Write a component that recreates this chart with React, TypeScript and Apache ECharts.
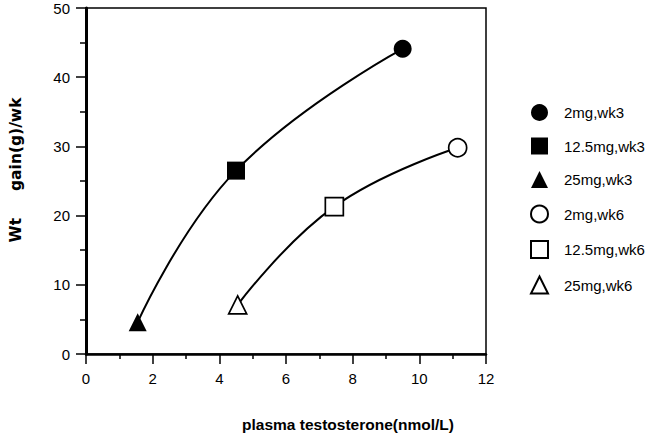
import React, { useEffect, useRef } from "react";
import * as echarts from "echarts";

// Dose groups, one marker per dose and sampling week
const doseLabels = ["2mg", "12.5mg", "25mg"];
const doseSymbols = ["circle", "rect", "triangle"];
const doseSymbolSizes = [18, 18, 18];

// Week 3: plasma testosterone (nmol/L) and weight gain (g/wk)
const testosteroneWk3 = [9.5, 4.5, 1.55];
const gainWk3 = [44.1, 26.5, 4.6];

// Week 6
const testosteroneWk6 = [11.15, 7.45, 4.55];
const gainWk6 = [29.8, 21.3, 7.1];

const xAxisTitle = "plasma testosterone(nmol/L)";
// non-breaking spaces keep the wide gap in SVG text
const yAxisTitle = "Wt\u00A0\u00A0\u00A0\u00A0\u00A0gain(g)/wk";

const FONT = "'Liberation Sans', Arial, Helvetica, sans-serif";
const WIDE_FONT = "'DejaVu Sans', Verdana, sans-serif";

function pairs(xs: number[], ys: number[]) {
  return xs.map((x, i) => [x, ys[i]]).sort((a, b) => a[0] - b[0]);
}

export default function App() {
  const ref = useRef<HTMLDivElement>(null);

  useEffect(() => {
    if (!ref.current) return;
    const chart = echarts.init(ref.current, null, { renderer: "svg" });

    const weeks = [
      { tag: "wk3", xs: testosteroneWk3, ys: gainWk3, filled: true },
      { tag: "wk6", xs: testosteroneWk6, ys: gainWk6, filled: false },
    ];

    const curveSeries = weeks.map((w) => ({
      type: "line",
      name: "curve " + w.tag,
      data: pairs(w.xs, w.ys),
      smooth: 0.45,
      showSymbol: false,
      symbol: "none",
      lineStyle: { color: "#000", width: 2 },
      z: 2,
      silent: true,
    }));

    const markerSeries: any[] = [];
    const legendNames: string[] = [];
    weeks.forEach((w) => {
      doseLabels.forEach((dose, i) => {
        const name = `${dose},${w.tag}`;
        legendNames.push(name);
        markerSeries.push({
          type: "scatter",
          name,
          data: [[w.xs[i], w.ys[i]]],
          symbol: doseSymbols[i],
          symbolSize: doseSymbolSizes[i],
          itemStyle: w.filled
            ? { color: "#000", opacity: 1 }
            : { color: "#fff", borderColor: "#000", borderWidth: 1.7, opacity: 1 },
          z: 5,
        });
      });
    });

    chart.setOption({
      animation: false,
      backgroundColor: "#fff",
      textStyle: { fontFamily: FONT, color: "#000" },
      grid: {
        left: 82,
        right: 164,
        top: 8,
        bottom: 82,
        show: true,
        borderColor: "#000",
        borderWidth: 1.5,
      },
      legend: {
        orient: "vertical",
        left: 525,
        top: 99,
        itemWidth: 17,
        itemHeight: 17,
        itemGap: 16.5,
        data: legendNames,
        textStyle: {
          fontFamily: FONT,
          fontSize: 15,
          color: "#000",
          padding: [0, 0, 0, 11],
        },
      },
      xAxis: {
        type: "value",
        min: 0,
        max: 12,
        interval: 2,
        name: xAxisTitle,
        nameLocation: "middle",
        nameGap: 62,
        nameTextStyle: {
          fontFamily: FONT,
          fontWeight: "bold",
          fontSize: 15.5,
          color: "#000",
          padding: [0, 0, 0, 124],
        },
        axisLine: { show: true, onZero: false, lineStyle: { color: "#000", width: 2.5 } },
        axisTick: { show: true, length: 10, lineStyle: { color: "#000", width: 1.5 } },
        minorTick: { show: true, splitNumber: 2, length: 5, lineStyle: { color: "#000", width: 1.5 } },
        axisLabel: { margin: 17, fontSize: 15, color: "#000", fontFamily: FONT },
        splitLine: { show: false },
        minorSplitLine: { show: false },
      },
      yAxis: {
        type: "value",
        min: 0,
        max: 50,
        interval: 10,
        name: yAxisTitle,
        nameLocation: "middle",
        nameRotate: 90,
        nameGap: 62,
        nameTextStyle: {
          fontFamily: WIDE_FONT,
          fontWeight: "bold",
          fontSize: 15.5,
          color: "#000",
          padding: [0, 0, 0, 22],
        },
        axisLine: { show: true, onZero: false, lineStyle: { color: "#000", width: 3 } },
        axisTick: { show: true, length: 10, lineStyle: { color: "#000", width: 1.5 } },
        minorTick: { show: true, splitNumber: 2, length: 6, lineStyle: { color: "#000", width: 1.5 } },
        axisLabel: { margin: 16, fontSize: 15, color: "#000", fontFamily: FONT },
        splitLine: { show: false },
        minorSplitLine: { show: false },
      },
      series: [...curveSeries, ...markerSeries],
    });

    return () => chart.dispose();
  }, []);

  return <div ref={ref} style={{ width: 650, height: 437, position: "absolute", left: 0, top: 0 }} />;
}
